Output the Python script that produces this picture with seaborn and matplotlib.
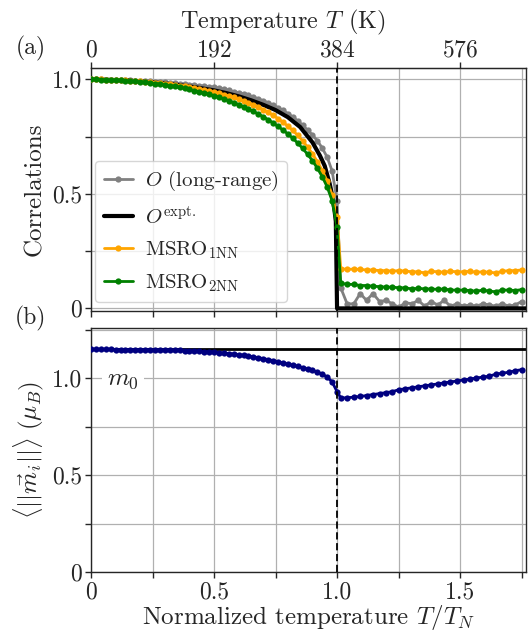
import numpy as np
import matplotlib
matplotlib.use("Agg")
import matplotlib.pyplot as plt
from matplotlib.ticker import MultipleLocator, FuncFormatter
import seaborn as sns

# temperature grid (normalized, T/T_N), T_N = 384 K
T_N = 384
t_low = [0.00, 0.02, 0.04, 0.06, 0.08, 0.10, 0.12, 0.14, 0.16, 0.18,
         0.20, 0.22, 0.24, 0.26, 0.28, 0.30, 0.32, 0.34, 0.36, 0.38,
         0.40, 0.42, 0.44, 0.46, 0.48, 0.50, 0.52, 0.54, 0.56, 0.58,
         0.60, 0.62, 0.64, 0.66, 0.68, 0.70, 0.72, 0.74, 0.76, 0.78,
         0.80, 0.82, 0.84, 0.86, 0.88, 0.90, 0.92, 0.94, 0.96, 0.98, 1.00]
t_high = [1.015, 1.041, 1.068, 1.094, 1.120, 1.146, 1.173, 1.199, 1.225, 1.251,
          1.278, 1.304, 1.330, 1.356, 1.383, 1.409, 1.435, 1.461, 1.488, 1.514,
          1.540, 1.566, 1.593, 1.619, 1.645, 1.671, 1.698, 1.724, 1.750]

# long-range order parameter O
O_low = [1.000, 1.000, 1.000, 0.999, 0.999, 0.998, 0.998, 0.997, 0.996, 0.995,
         0.994, 0.993, 0.992, 0.990, 0.989, 0.987, 0.985, 0.983, 0.981, 0.979,
         0.977, 0.975, 0.972, 0.970, 0.967, 0.965, 0.961, 0.957, 0.952, 0.947,
         0.942, 0.936, 0.930, 0.923, 0.915, 0.907, 0.898, 0.888, 0.877, 0.865,
         0.851, 0.836, 0.819, 0.800, 0.779, 0.757, 0.732, 0.700, 0.660, 0.600, 0.470]
O_high = [0.090, 0.020, 0.020, 0.065, 0.035, 0.065, 0.030, 0.035, 0.020, 0.005,
          0.025, 0.020, 0.035, 0.010, 0.030, 0.015, 0.035, 0.010, 0.020, 0.010,
          0.015, 0.010, 0.020, 0.015, 0.010, 0.020, 0.010, 0.015, 0.030]

# experimental order parameter
t_expt = [0.00, 0.05, 0.10, 0.15, 0.20, 0.25, 0.30, 0.35, 0.40, 0.45, 0.50,
          0.55, 0.60, 0.65, 0.70, 0.75, 0.80, 0.85, 0.90, 0.93, 0.95, 0.97,
          0.98, 0.99, 0.995, 1.00, 1.77]
O_expt = [1.000, 0.999, 0.997, 0.995, 0.991, 0.987, 0.982, 0.976, 0.969, 0.961, 0.952,
          0.940, 0.926, 0.909, 0.889, 0.866, 0.835, 0.792, 0.725, 0.668, 0.622, 0.545,
          0.495, 0.425, 0.380, 0.000, 0.000]

# magnetic short-range order, 1st and 2nd neighbours
msro1_low = [1.000, 1.000, 1.000, 0.999, 0.999, 0.998, 0.997, 0.996, 0.995, 0.993,
             0.992, 0.990, 0.988, 0.986, 0.984, 0.981, 0.979, 0.976, 0.973, 0.970,
             0.966, 0.962, 0.958, 0.953, 0.948, 0.944, 0.939, 0.934, 0.928, 0.921,
             0.914, 0.906, 0.898, 0.889, 0.879, 0.868, 0.856, 0.843, 0.829, 0.813,
             0.796, 0.777, 0.756, 0.732, 0.705, 0.675, 0.641, 0.602, 0.556, 0.495, 0.400]
msro1_high = [0.174, 0.170, 0.172, 0.170, 0.168, 0.168, 0.165, 0.165, 0.163, 0.165,
              0.163, 0.160, 0.160, 0.155, 0.162, 0.160, 0.158, 0.162, 0.160, 0.160,
              0.162, 0.158, 0.160, 0.158, 0.155, 0.162, 0.165, 0.165, 0.168]
msro2_low = [1.000, 1.000, 0.999, 0.999, 0.998, 0.997, 0.996, 0.995, 0.993, 0.991,
             0.989, 0.987, 0.984, 0.982, 0.979, 0.976, 0.972, 0.969, 0.965, 0.961,
             0.956, 0.951, 0.946, 0.941, 0.935, 0.929, 0.922, 0.915, 0.907, 0.899,
             0.890, 0.881, 0.871, 0.860, 0.849, 0.837, 0.824, 0.810, 0.795, 0.779,
             0.762, 0.743, 0.722, 0.699, 0.673, 0.645, 0.612, 0.575, 0.530, 0.470, 0.357]
msro2_high = [0.110, 0.105, 0.105, 0.100, 0.100, 0.097, 0.095, 0.093, 0.093, 0.090,
              0.090, 0.085, 0.088, 0.085, 0.085, 0.083, 0.085, 0.080, 0.080, 0.080,
              0.078, 0.075, 0.080, 0.075, 0.073, 0.080, 0.080, 0.078, 0.082]

# average local moment
m_low = [1.148, 1.148, 1.148, 1.148, 1.148, 1.147, 1.147, 1.147, 1.147, 1.146,
         1.146, 1.146, 1.145, 1.145, 1.144, 1.144, 1.143, 1.142, 1.142, 1.141,
         1.140, 1.139, 1.138, 1.136, 1.135, 1.133, 1.131, 1.129, 1.126, 1.123,
         1.120, 1.117, 1.113, 1.109, 1.105, 1.100, 1.095, 1.090, 1.084, 1.078,
         1.072, 1.066, 1.060, 1.054, 1.047, 1.040, 1.031, 1.020, 1.005, 0.980, 0.930]
m_high = [0.898, 0.898, 0.902, 0.905, 0.910, 0.915, 0.920, 0.925, 0.930, 0.940,
          0.945, 0.950, 0.955, 0.960, 0.965, 0.970, 0.975, 0.980, 0.985, 0.990,
          0.995, 1.000, 1.005, 1.010, 1.020, 1.025, 1.030, 1.038, 1.043]
m0 = 1.15

sns.set_style("ticks")
plt.rcParams["font.family"] = "serif"
plt.rcParams["font.serif"] = ["cmr10"]
plt.rcParams["mathtext.fontset"] = "cm"
plt.rcParams["axes.formatter.use_mathtext"] = True
plt.rcParams["axes.unicode_minus"] = False

t_all = t_low + t_high
fig = plt.figure(figsize=(5.31, 6.35), dpi=100)
ax1 = fig.add_axes([0.1714, 0.510, 0.8192, 0.383])
ax2 = fig.add_axes([0.1714, 0.099, 0.8192, 0.3845])

lw, ms = 2.0, 4.5
sns.lineplot(x=t_all, y=O_low + O_high, ax=ax1, color="grey", marker="o", lw=lw,
             ms=ms, mew=0, label=r"$O$ (long-range)", zorder=3)
sns.lineplot(x=t_expt, y=O_expt, ax=ax1, color="black", lw=3, sort=False,
             label=r"$O^{\mathrm{expt.}}$", zorder=3)
sns.lineplot(x=t_all, y=msro1_low + msro1_high, ax=ax1, color="orange", marker="o",
             lw=lw, ms=ms, mew=0, label=r"MSRO$_{\mathrm{1NN}}$", zorder=3)
sns.lineplot(x=t_all, y=msro2_low + msro2_high, ax=ax1, color="green", marker="o",
             lw=lw, ms=ms, mew=0, label=r"MSRO$_{\mathrm{2NN}}$", zorder=3)

sns.lineplot(x=t_all, y=m_low + m_high, ax=ax2, color="navy", marker="o", lw=lw,
             ms=ms, mew=0, zorder=3)
ax2.axhline(m0, color="black", lw=2, zorder=2)
ax2.text(0.065, 0.99, r"$m_0$", fontsize=18, va="center", ha="left", zorder=4,
         bbox=dict(facecolor="white", edgecolor="none", pad=4))

fmt = FuncFormatter(lambda v, p: "0" if abs(v) < 1e-9 else f"{v:.1f}")
for ax in (ax1, ax2):
    ax.axvline(1.0, color="black", ls=(0, (4, 2)), lw=1.3, zorder=4)
    ax.set_xlim(0, 1.768)
    ax.xaxis.set_major_locator(MultipleLocator(0.5))
    ax.xaxis.set_minor_locator(MultipleLocator(0.25))
    ax.yaxis.set_major_locator(MultipleLocator(0.5))
    ax.yaxis.set_minor_locator(MultipleLocator(0.25))
    ax.yaxis.set_major_formatter(fmt)
    ax.xaxis.set_major_formatter(fmt)
    ax.grid(which="both", color="#b0b0b0", lw=0.9, zorder=0)
    ax.set_axisbelow(True)
    ax.tick_params(which="both", direction="out", length=4.5, width=1, labelsize=17,
                   pad=2)
    for s in ax.spines.values():
        s.set_linewidth(1.0)

ax1.set_ylim(-0.012, 1.05)
ax2.set_ylim(0, 1.258)
ax1.tick_params(axis="x", labelbottom=False)
ax1.set_ylabel("Correlations", fontsize=18, labelpad=4)
ax2.set_ylabel(r"$\langle||\vec{m}_i||\rangle\ (\mu_B)$", fontsize=18, labelpad=4)
ax2.set_xlabel(r"Normalized temperature $T/T_N$", fontsize=18, labelpad=0)

top = ax1.secondary_xaxis("top", functions=(lambda t: t * T_N, lambda T: T / T_N))
top.set_xticks([0, 192, 384, 576])
top.xaxis.set_minor_locator(MultipleLocator(1000))
top.tick_params(length=4.5, width=1, labelsize=17, pad=0)
top.set_xlabel(r"Temperature $T$ (K)", fontsize=17.5, labelpad=8)
top.xaxis.label.set_x(0.441)

leg = ax1.legend(loc="lower left", bbox_to_anchor=(0.0, 0.02), fontsize=15,
                 handlelength=1.4, labelspacing=0.55, borderaxespad=0.2,
                 handletextpad=0.6)

fig.text(0.058, 0.924, "(a)", fontsize=17, ha="center", va="center")
fig.text(0.058, 0.499, "(b)", fontsize=17, ha="center", va="center")

fig.savefig("out.png", dpi=100)
